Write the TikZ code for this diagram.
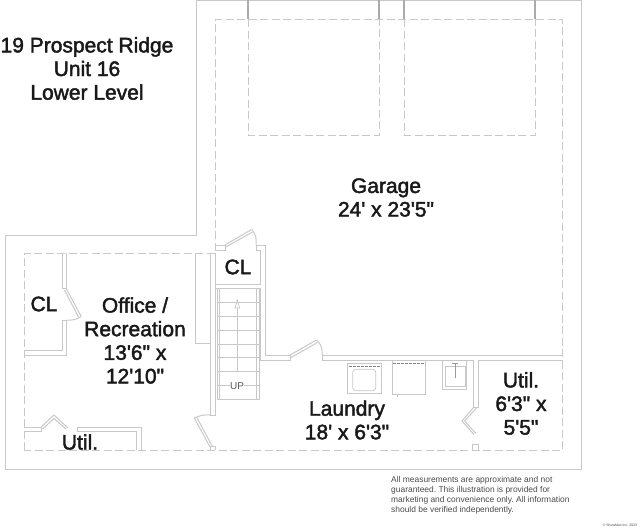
\documentclass[tikz,border=0pt]{standalone}
\usepackage{fontspec}
\newfontfamily\planfont{Liberation Sans}
\newfontfamily\roomfont{Liberation Sans}[RawFeature={embolden=2}]
\frenchspacing
\usetikzlibrary{arrows.meta}

\definecolor{wallgray}{HTML}{C8C8C8}
\definecolor{notegray}{HTML}{4A4A4A}

\tikzset{
  wall/.style={draw=wallgray, line width=1pt, line join=miter},
  dash line/.style={draw=wallgray, line width=0.9pt, dash pattern=on 8pt off 3.5pt},
  fixture/.style={draw=wallgray, line width=0.8pt},
  roomlabel/.style={font=\roomfont\fontsize{21}{23.6}\selectfont, align=center, text=black!90, inner sep=0pt},
  notelabel/.style={font=\planfont\fontsize{8.43}{9.9}\selectfont, align=left, text=notegray, inner sep=0pt, anchor=north west}
}

\begin{document}
\begin{tikzpicture}[x=1pt,y=-1pt]
\useasboundingbox (0,0) rectangle (640,528);

%
\draw [wall] (196.5,-1) -- (196.5,235) -- (5,235) -- (5,469.5) -- (581.5,469.5) -- (581.5,-1);
\draw [wall] (196.5,0.5) -- (581.5,0.5);

%
\draw [dash line] (24,450) -- (24,253) -- (215.7,253) -- (215.7,19) -- (562.5,19) -- (562.5,450) -- cycle;
\draw [dash line] (248,19) -- (248,135) -- (379,135) -- (379,19);
\draw [dash line] (404,19) -- (404,135) -- (535,135) -- (535,19);
\foreach \x in {248,379,404,535} {
  \draw [wall, line width=1.1pt, wallgray!85!black] (\x,0) -- (\x,19);
}

%
\draw [wall] (62,253) -- (62,288.5) -- (66.5,288.5) -- (66.5,253);
\draw [wall] (66.5,289) -- (81,316);
\draw [wall] (64.5,290) -- (78.5,317);
\draw [wall] (81.5,316.5) to[bend left=18] (66.5,320);
\draw [wall] (66.5,320) -- (66.5,355) -- (24,355);
\draw [wall] (62,320) -- (66.5,320);
\draw [wall] (62,320) -- (62,350) -- (24,350);

%
\draw [wall] (24,427) -- (41,427) -- (41,431) -- (24,431);
\draw [wall] (41,427) -- (54,415) -- (68,428);
\draw [wall] (42.5,429) -- (54,418.5) -- (66,429);
\draw [wall] (77,431) -- (77,427) -- (141,427) -- (141,450);
\draw [wall] (77,431) -- (136.5,431) -- (136.5,450);

%
\draw [wall] (195,253) -- (195,343) -- (210,343);
\draw [wall] (210,253) -- (210,415) -- (215.7,415) -- (215.7,253);

%
\draw [wall] (215.7,245) -- (225,245) -- (225,250.7) -- (215.7,250.7);
\draw [wall] (225,245) -- (251.5,229.5);
\draw [wall] (225,247.5) -- (252.5,232);
\draw [wall] (252,229.5) to[bend left=22] (256,245);
\draw [wall] (256,245) -- (256,250.5) -- (260.7,250.5) -- (260.7,284) -- (215.7,284);
\draw [wall] (256,245) -- (265.3,245) -- (265.3,355) -- (290,355) -- (290,360) -- (260.7,360) -- (260.7,288.5) -- (215.7,288.5);
\draw [wall] (290,355) -- (316.5,340);
\draw [wall] (290,358) -- (317.5,342.5);
\draw [wall] (317,340) to[bend left=22] (322.3,355);
\draw [wall] (563,355.7) -- (322.3,355.7) -- (322.3,360) -- (473.3,360);
\draw [wall] (478.3,360) -- (563,360);

%
\draw [fixture] (217.3,288.5) -- (217.3,400);
\draw [fixture] (219.5,288.5) -- (219.5,400);
\draw [fixture] (256.7,288.5) -- (256.7,400);
\draw [fixture] (259,288.5) -- (259,400);
\foreach \y in {302.7,316.7,330,344,357.3,371,385,399} {
  \draw [fixture] (217.3,\y) -- (259,\y);
}
\draw [fixture] (237.3,371.7) -- (237.3,308);
\draw [fixture] (235,308) -- (239.6,308) -- (237.3,300) -- cycle;
\node (up) [font=\planfont\fontsize{10}{10}\selectfont, text=black!65, fill=white, inner sep=0.5pt] at (237,386) {UP};

%
\draw [wall] (194.3,418) -- (210,447);
\draw [wall] (196.8,417.5) -- (212.5,446.5);
\draw [wall] (194.3,418) to[bend left=14] (210,415);
\draw [wall] (210,450) -- (210,446.5) -- (215.7,446.5) -- (215.7,450);

%
\draw [fixture] (347.7,363.3) rectangle (381,393.3);
\draw [fixture, rounded corners=3pt] (352.7,369.3) rectangle (375.7,390.7);
\draw [line width=0.9pt, black!50, dash pattern=on 3pt off 1pt] (349,366) -- (380,366);
\draw [fixture] (392.3,360) rectangle (425,394.3);
\draw [line width=0.9pt, black!50, dash pattern=on 3pt off 1pt] (393,363.5) -- (424,363.5);
\draw [fixture] (397,394.3) -- (397,396.5);
\draw [fixture] (442.3,360) rectangle (466.7,389.3);
\draw [fixture] (445,366) rectangle (465,386.7);
\draw [line width=0.8pt, black!40] (455,362.5) -- (455,377.5);
\draw [line width=0.8pt, black!40] (452,363) -- (458,363);

%
\draw [wall] (473.3,360) -- (473.3,407.7) -- (478.3,407.7) -- (478.3,360);
\draw [wall] (476.5,408) -- (464.5,421) -- (476,433.5);
\draw [wall] (473.5,407.5) -- (462,421) -- (474,434.5);
\draw [wall] (472.7,450) -- (472.7,444) -- (478.3,444) -- (478.3,450);

%
\node (title) [roomlabel] at (87,68.5) {19 Prospect Ridge\\Unit 16\\Lower Level};
\node (garage) [roomlabel] at (386,197.5) {Garage\\24' x 23'5"};
\node (clA) [roomlabel] at (238,267) {CL};
\node (clB) [roomlabel] at (44,304) {CL};
\node (office) [roomlabel] at (135,340.5) {Office /\\Recreation\\13'6" x\\12'10"};
\node (utilA) [roomlabel] at (80,442) {Util.};
\node (laundry) [roomlabel] at (347,420) {Laundry\\18' x 6'3"};
\node (utilB) [roomlabel] at (521,403.5) {Util.\\6'3" x\\5'5"};
\node (note) [notelabel] at (391,476.5) {All measurements are approximate and not\\guaranteed. This illustration is provided for\\marketing and convenience only. All information\\should be verified independently.};
\node (mark) [font=\planfont\fontsize{3.5}{4}\selectfont, text=notegray, inner sep=0pt] at (620,525.5) {\textcopyright{} ShowMax Inc. 2023};
\end{tikzpicture}
\end{document}
